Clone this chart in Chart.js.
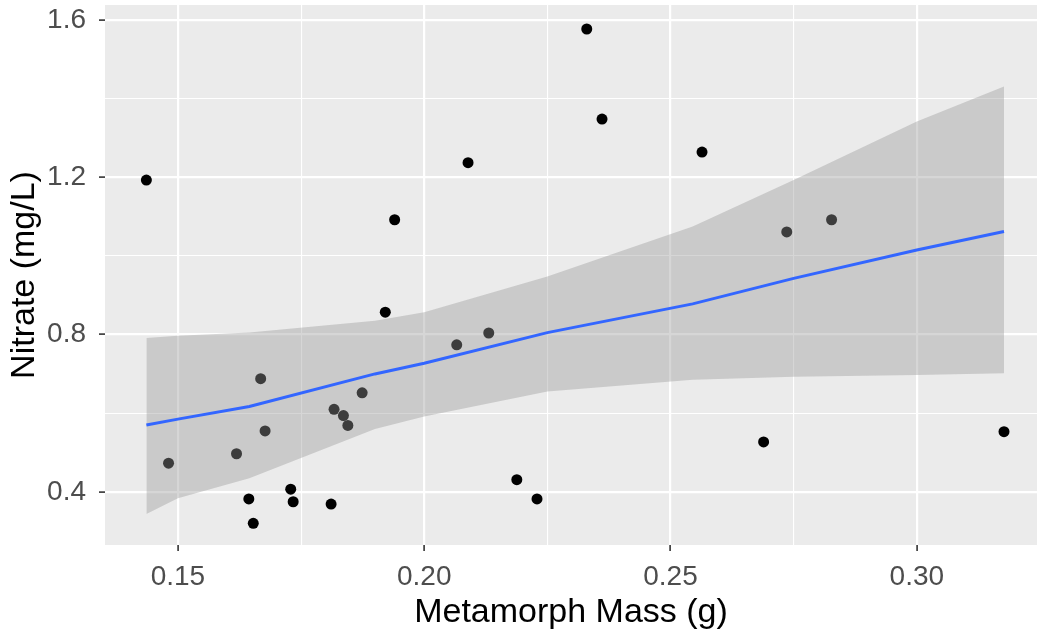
<!DOCTYPE html>
<html>
<head>
<meta charset="utf-8">
<script src="https://cdn.jsdelivr.net/npm/chart.js@4.4.1/dist/chart.umd.min.js"></script>
<style>
    html, body { margin: 0; padding: 0; background: #ffffff; }
    #wrap { width: 1037px; height: 641px; position: relative; }
</style>
</head>
<body>
<div id="wrap"><canvas id="massChart"></canvas></div>
<script>
// Observed points
const massX = [0.1436, 0.1481, 0.1619, 0.1668, 0.1677, 0.1644, 0.1653, 0.1729, 0.1734, 0.1811,
               0.1817, 0.1836, 0.1845, 0.1874, 0.1921, 0.1940, 0.2089, 0.2066, 0.2131, 0.2188,
               0.2229, 0.2330, 0.2361, 0.2564, 0.2689, 0.2736, 0.2827, 0.3177];
const nitrateY = [1.193, 0.473, 0.497, 0.688, 0.555, 0.382, 0.320, 0.407, 0.375, 0.369,
                  0.610, 0.594, 0.569, 0.652, 0.857, 1.092, 1.237, 0.774, 0.804, 0.431,
                  0.382, 1.577, 1.348, 1.264, 0.527, 1.061, 1.092, 0.553];

// Smoother line and confidence band
const fitX    = [0.1436, 0.150, 0.1645, 0.190, 0.200, 0.225, 0.2545, 0.275, 0.300, 0.3177];
const fitY    = [0.570, 0.585, 0.617, 0.700, 0.727, 0.805, 0.878, 0.943, 1.015, 1.062];
const fitLow  = [0.344, 0.384, 0.435, 0.560, 0.592, 0.655, 0.685, 0.693, 0.697, 0.702];
const fitHigh = [0.791, 0.797, 0.805, 0.835, 0.857, 0.948, 1.075, 1.193, 1.342, 1.431];

const xMajor = [0.15, 0.20, 0.25, 0.30];
const xMinor = [0.175, 0.225, 0.275];
const yMajor = [0.4, 0.8, 1.2, 1.6];
const yMinor = [0.6, 1.0, 1.4];

const FONT = "'Liberation Sans', Arial, sans-serif";

const pairs = (xs, ys) => xs.map((x, i) => ({ x: x, y: ys[i] }));
const isMajor = (list, v) => list.some(m => Math.abs(m - v) < 1e-6);

const panelBg = {
    id: 'panelBg',
    beforeDraw(chart) {
        const { ctx, chartArea: a } = chart;
        ctx.save();
        ctx.fillStyle = '#ebebeb';
        ctx.fillRect(a.left, a.top, a.right - a.left, a.bottom - a.top);
        ctx.restore();
    }
};

function axisTicks(major, minor) {
    return (axis) => {
        axis.ticks = major.concat(minor).sort((a, b) => a - b).map(v => ({ value: v }));
    };
}

function gridOpts(major) {
    return {
        color: '#ffffff',
        lineWidth: (c) => isMajor(major, c.tick.value) ? 2.2 : 1.1,
        drawTicks: true,
        tickLength: 6,
        tickWidth: 1.6,
        tickColor: (c) => isMajor(major, c.tick.value) ? '#333333' : 'rgba(0,0,0,0)'
    };
}

const ctx = document.getElementById('massChart').getContext('2d');

new Chart(ctx, {
    type: 'scatter',
    data: {
        datasets: [
            {
                // fitted line on top
                type: 'line',
                data: pairs(fitX, fitY),
                borderColor: '#3366ff',
                borderWidth: 3,
                pointRadius: 0,
                fill: false,
                tension: 0,
                order: 0
            },
            {
                type: 'line',
                data: pairs(fitX, fitHigh),
                borderWidth: 0,
                borderColor: 'rgba(0,0,0,0)',
                backgroundColor: 'rgba(153,153,153,0.4)',
                pointRadius: 0,
                fill: '+1',
                tension: 0,
                order: 1
            },
            {
                type: 'line',
                data: pairs(fitX, fitLow),
                borderWidth: 0,
                borderColor: 'rgba(0,0,0,0)',
                pointRadius: 0,
                fill: false,
                tension: 0,
                order: 2
            },
            {
                // points drawn first, the band covers them
                data: pairs(massX, nitrateY),
                backgroundColor: '#000000',
                borderWidth: 0,
                pointRadius: 5.5,
                order: 3
            }
        ]
    },
    options: {
        responsive: true,
        maintainAspectRatio: false,
        animation: false,
        layout: { autoPadding: false, padding: { top: 5, right: 0, left: 0, bottom: 0 } },
        plugins: {
            legend: { display: false },
            tooltip: { enabled: false },
            filler: { drawTime: 'beforeDatasetDraw' }
        },
        scales: {
            x: {
                type: 'linear',
                min: 0.1352,
                max: 0.3244,
                afterBuildTicks: axisTicks(xMajor, xMinor),
                afterFit: (axis) => {
                    axis.height = 96;
                    axis.paddingLeft = 0;
                    axis.paddingRight = 0;
                },
                grid: gridOpts(xMajor),
                border: { display: false },
                ticks: {
                    autoSkip: false,
                    maxRotation: 0,
                    padding: 9,
                    color: '#4d4d4d',
                    font: { family: FONT, size: 28 },
                    callback: (v) => isMajor(xMajor, v) ? v.toFixed(2) : ''
                },
                title: {
                    display: true,
                    text: 'Metamorph Mass (g)',
                    color: '#000000',
                    font: { family: FONT, size: 34 },
                    padding: { top: 0, bottom: 8 }
                }
            },
            y: {
                type: 'linear',
                min: 0.265,
                max: 1.638,
                afterBuildTicks: axisTicks(yMajor, yMinor),
                afterFit: (axis) => {
                    axis.width = 105;
                    axis.paddingTop = 0;
                    axis.paddingBottom = 0;
                },
                grid: gridOpts(yMajor),
                border: { display: false },
                ticks: {
                    autoSkip: false,
                    padding: 13,
                    color: '#4d4d4d',
                    font: { family: FONT, size: 28 },
                    callback: (v) => isMajor(yMajor, v) ? v.toFixed(1) : ''
                },
                title: {
                    display: true,
                    text: 'Nitrate (mg/L)',
                    color: '#000000',
                    font: { family: FONT, size: 34 },
                    padding: { top: 4, bottom: 0 }
                }
            }
        }
    },
    plugins: [panelBg]
});
</script>
</body>
</html>
